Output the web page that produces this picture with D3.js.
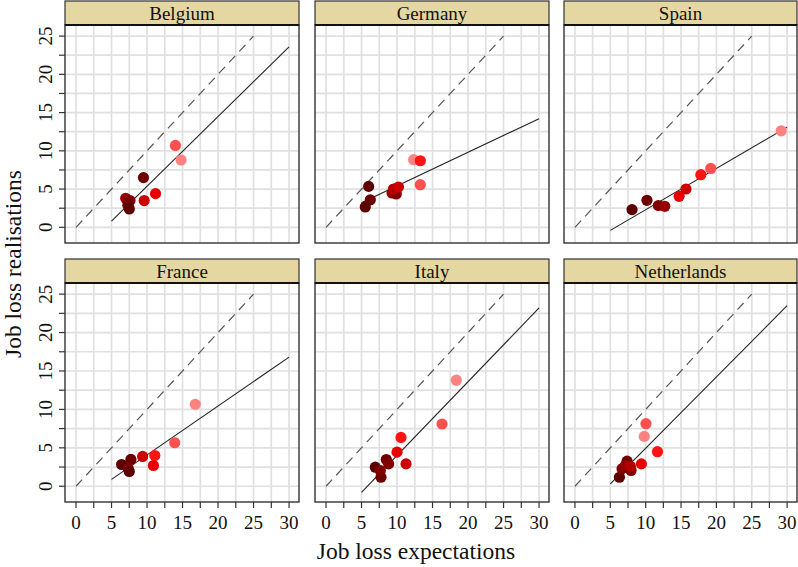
<!DOCTYPE html>
<html><head><meta charset="utf-8">
<script src="https://cdn.jsdelivr.net/npm/d3@7"></script>
<style>body{margin:0;background:#fff}svg{display:block}text{font-family:"Liberation Serif","DejaVu Serif",serif;fill:#111}</style>
</head><body><svg id="c" width="798" height="567"></svg>
<script>
const countries = ["Belgium","Germany","Spain","France","Italy","Netherlands"];
const expectations = [
  [7.0,7.6,7.3,7.5,9.5,9.6,11.2,14.0,14.8],
  [6.0,6.24,5.53,9.3,9.9,9.5,10.2,12.34,13.28,13.28],
  [8.07,10.18,11.8,12.7,14.73,15.7,17.8,19.2,29.17],
  [6.42,7.73,7.36,7.5,9.38,11.1,10.9,13.9,16.8],
  [6.94,7.74,7.65,8.49,8.82,10.0,11.27,10.56,16.34,18.35],
  [6.29,6.66,7.37,7.13,7.93,7.83,9.39,11.67,9.8,10.04]
];
const realisations = [
  [3.8,3.5,2.9,2.4,6.5,3.5,4.4,10.7,8.8],
  [5.35,3.6,2.66,4.49,4.36,5.0,5.27,8.84,8.7,5.57],
  [2.31,3.53,2.85,2.75,4.05,5.01,6.88,7.7,12.62],
  [2.83,3.49,2.27,1.92,3.88,4.0,2.7,5.66,10.67],
  [2.48,1.17,2.05,3.48,2.91,4.44,2.91,6.35,8.1,13.8],
  [1.17,2.27,3.26,2.7,2.05,2.6,2.91,4.5,6.49,8.14]
];
const shades = [
  [3,2,1,0,1,5,6,8,9],
  [0,1,0,3,2,4,5,9,7,8],
  [0,1,2,3,6,5,7,8,9],
  [0,1,2,0,5,7,6,8,9],
  [0,1,2,1,2,6,5,7,8,9],
  [0,2,1,3,2,4,6,7,9,8]
];
const shadePalette = ["#5c0000","#6e0000","#800000","#960000","#b00000","#cc0000","#e60000","#ff1414","#ff5050","#ff8282"];
const fitFrom = [5,5,5,5,5,5];
const fitTo = [30,30,30,30,30,30];
const fitAtFrom = [0.8,3.2,-0.4,0.9,-0.8,0.3];
const fitAtTo = [23.6,14.2,13.1,16.8,23.2,23.5];
const xTicks = [0,5,10,15,20,25,30];
const yTicks = [0,5,10,15,20,25];
const gridStep = 2.5;

const svg = d3.select("#c");
const colX = [[65,299],[315,549],[564,797]];
const rows = [{strip:1, top:25, bottom:243},{strip:259, top:283, bottom:502}];
const color = d3.scaleOrdinal().domain(d3.range(10)).range(shadePalette);
const xGrid = d3.range(0, 30 + 0.001, gridStep);
const yGrid = d3.range(0, 25 + 0.001, gridStep);

countries.forEach((name, i) => {
  const c = i % 3, r = Math.floor(i / 3);
  const [x0, x1] = colX[c];
  const R = rows[r];
  const x = d3.scaleLinear().domain([-1.55, 31.4]).range([x0, x1]);
  const y = d3.scaleLinear().domain([-2.05, 26.45]).range([R.bottom, R.top]);
  const g = svg.append("g");
  g.append("rect").attr("x", x0).attr("y", R.top).attr("width", x1 - x0).attr("height", R.bottom - R.top).attr("fill", "#fff");
  g.selectAll(".gx").data(xGrid).join("line").attr("x1", d => x(d)).attr("x2", d => x(d))
    .attr("y1", R.top).attr("y2", R.bottom).attr("stroke", "#e0e0e0").attr("stroke-width", 1.7);
  g.selectAll(".gy").data(yGrid).join("line").attr("y1", d => y(d)).attr("y2", d => y(d))
    .attr("x1", x0).attr("x2", x1).attr("stroke", "#e0e0e0").attr("stroke-width", 1.7);
  g.append("line").attr("x1", x(0)).attr("y1", y(0)).attr("x2", x(25)).attr("y2", y(25))
    .attr("stroke", "#555").attr("stroke-width", 1.2).attr("stroke-dasharray", "9,6");
  g.append("line").attr("x1", x(fitFrom[i])).attr("y1", y(fitAtFrom[i])).attr("x2", x(fitTo[i])).attr("y2", y(fitAtTo[i]))
    .attr("stroke", "#222").attr("stroke-width", 1.1);
  const pts = expectations[i].map((v, k) => ({x: v, y: realisations[i][k], s: shades[i][k]}));
  g.selectAll("circle").data(pts).join("circle").attr("cx", d => x(d.x)).attr("cy", d => y(d.y)).attr("r", 5.6)
    .attr("fill", d => color(d.s));
  g.append("rect").attr("x", x0).attr("y", R.top).attr("width", x1 - x0).attr("height", R.bottom - R.top)
    .attr("fill", "none").attr("stroke", "#333").attr("stroke-width", 1.4);
  g.append("rect").attr("x", x0).attr("y", R.strip).attr("width", x1 - x0).attr("height", R.top - R.strip)
    .attr("fill", "#e5d7a1").attr("stroke", "#333").attr("stroke-width", 1.2);
  g.append("line").attr("x1", x0).attr("x2", x1).attr("y1", R.top).attr("y2", R.top).attr("stroke", "#111").attr("stroke-width", 2);
  g.append("text").attr("x", (x0 + x1) / 2).attr("y", R.strip + 18.5).attr("text-anchor", "middle")
    .style("font-size", "19px").text(name);
  if (c === 0) {
    const ticks = d3.range(0, 25 + 0.001, gridStep);
    g.selectAll(".ty").data(ticks).join("line").attr("x1", x0 - 6).attr("x2", x0).attr("y1", d => y(d)).attr("y2", d => y(d))
      .attr("stroke", "#333").attr("stroke-width", 1.2);
    g.selectAll(".tyl").data(yTicks).join("text").attr("transform", d => `translate(52,${y(d)}) rotate(-90)`)
      .attr("text-anchor", "middle").style("font-size", "19px").text(d => d);
  }
  if (r === 1) {
    const ticks = d3.range(0, 30 + 0.001, gridStep);
    g.selectAll(".tx").data(ticks).join("line").attr("y1", R.bottom).attr("y2", R.bottom + 6).attr("x1", d => x(d)).attr("x2", d => x(d))
      .attr("stroke", "#333").attr("stroke-width", 1.2);
    g.selectAll(".txl").data(xTicks).join("text").attr("x", d => x(d)).attr("y", 529)
      .attr("text-anchor", "middle").style("font-size", "19px").text(d => d);
  }
});
svg.append("text").attr("x", 416).attr("y", 559).attr("text-anchor", "middle").style("font-size", "23.5px").text("Job loss expectations");
svg.append("text").attr("transform", "translate(21,264) rotate(-90)").attr("text-anchor", "middle").style("font-size", "23.5px").text("Job loss realisations");
</script></body></html>
